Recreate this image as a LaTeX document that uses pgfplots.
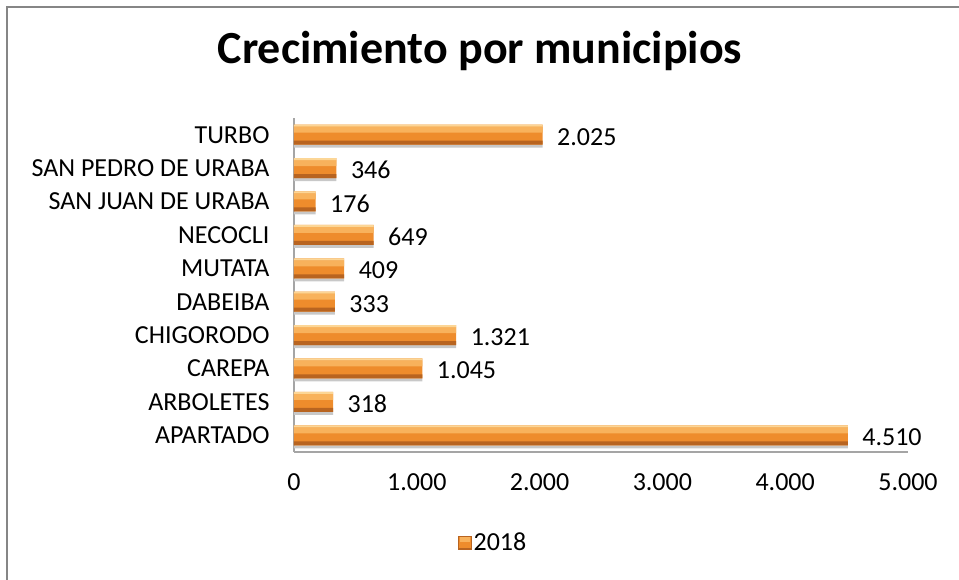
\documentclass[border=0pt]{standalone}
\usepackage{fontspec}
\setmainfont{Carlito}
\usepackage{pgfplots}
\pgfplotsset{compat=1.18}
\definecolor{barmid}{RGB}{238,140,44}
\definecolor{barlight}{RGB}{248,178,92}
\definecolor{baredge}{RGB}{252,214,150}
\definecolor{bardark}{RGB}{184,100,32}
\definecolor{barshadow}{RGB}{200,200,200}
\definecolor{framegray}{RGB}{134,134,134}
\definecolor{axisgray}{RGB}{165,165,165}
\pgfplotstableread{
val pos
4510 0
318 1
1045 2
1321 3
333 4
409 5
649 6
176 7
346 8
2025 9
}\crec
\begin{document}
\begin{tikzpicture}[x=1pt,y=1pt]
\useasboundingbox (0,0) rectangle (959,580);
\draw[framegray, line width=2.5pt] (7,0) -- (7,573) -- (959,573);
\node[font=\bfseries\fontsize{46}{50}\selectfont] at (480,529) {Crecimiento por municipios};
\begin{axis}[
    at={(294pt,128pt)}, anchor=south west,
    scale only axis, width=614pt, height=334pt,
    xmin=0, xmax=5000, ymin=-0.5, ymax=9.5,
    xbar, bar width=20pt,
    axis x line*=bottom, axis y line*=left,
    axis line style={axisgray, line width=2pt},
    major tick length=0pt,
    xtick={0,1000,2000,3000,4000,5000},
    ytick={0,1,2,3,4,5,6,7,8,9},
    yticklabels={APARTADO,ARBOLETES,CAREPA,CHIGORODO,DABEIBA,MUTATA,NECOCLI,SAN JUAN DE URABA,SAN PEDRO DE URABA,TURBO},
    tick label style={font=\fontsize{26}{30}\selectfont},
    xticklabel style={yshift=-18pt},
    yticklabel style={xshift=-21pt},
    /pgf/number format/1000 sep={.},
    /pgf/number format/assume math mode=true,
    legend style={at={(0.324,-0.272)}, anchor=center, draw=none, font=\fontsize{26}{30}\selectfont},
    legend image code/.code={
        \fill[bardark] (0pt,-7pt) rectangle (14pt,7pt);
        \fill[barmid] (1pt,-5pt) rectangle (13pt,6pt);
        \fill[barlight] (2pt,1pt) rectangle (12pt,6pt);},
]
% soft shadow under each bar
\addplot[forget plot, draw=none, fill=barshadow, bar width=3pt, bar shift=-11.5pt] table[x=val, y=pos] {\crec};
% main bar
\addplot[draw=none, fill=barmid,
    nodes near coords,
    nodes near coords style={font=\fontsize{26}{30}\selectfont, anchor=west, xshift=11pt, yshift=-2pt}]
    table[x=val, y=pos] {\crec};
\addlegendentry{2018}
% bevel: lighter upper band, bright top edge, darker lower band
\addplot[forget plot, draw=none, fill=barlight, bar width=6pt, bar shift=5pt] table[x=val, y=pos] {\crec};
\addplot[forget plot, draw=none, fill=baredge, bar width=2pt, bar shift=9pt] table[x=val, y=pos] {\crec};
\addplot[forget plot, draw=none, fill=bardark, bar width=4pt, bar shift=-8pt] table[x=val, y=pos] {\crec};
\end{axis}
\end{tikzpicture}
\end{document}
